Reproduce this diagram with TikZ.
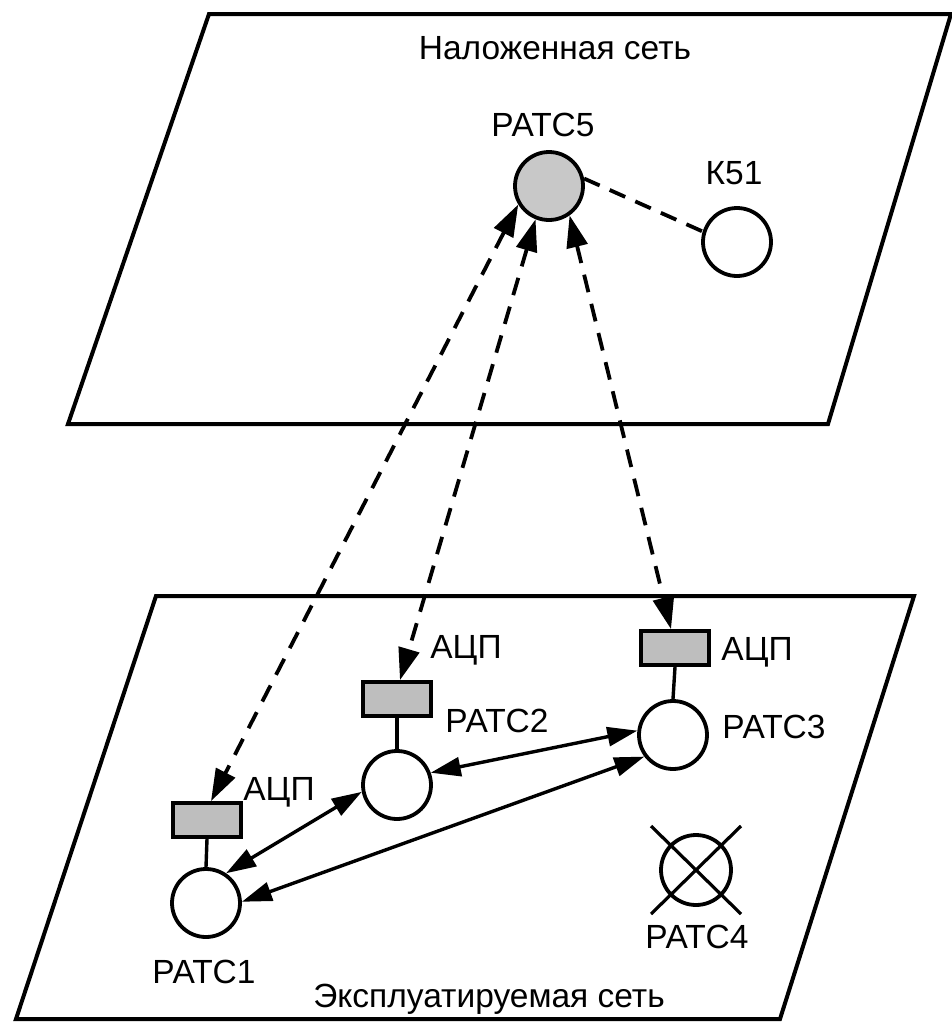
\documentclass[tikz,border=0pt]{standalone}
\usepackage{fontspec}
\setmainfont{Liberation Sans}
\usetikzlibrary{arrows.meta}
\definecolor{fillA}{HTML}{C8C8C8}
\definecolor{fillB}{HTML}{BEBEBE}
\tikzset{
  plane/.style={line width=4pt, line join=miter},
  station/.style={circle, draw, line width=3.8pt, minimum size=68pt, inner sep=0pt, fill=white},
  adc/.style={rectangle, draw, line width=3.8pt, minimum width=68pt, minimum height=34pt, inner sep=0pt, fill=fillB},
  lbl/.style={font=\fontsize{33.5}{33.5}\selectfont, inner sep=0pt, anchor=base},
  dlink/.style={line width=3.8pt, dash pattern=on 18pt off 12pt, {Triangle[length=32pt,width=21pt]}-{Triangle[length=32pt,width=21pt]}},
  slink/.style={line width=3.4pt, {Triangle[length=30pt,width=19pt]}-{Triangle[length=30pt,width=19pt]}},
  wire/.style={line width=3.4pt},
}
\begin{document}
\begin{tikzpicture}[x=1pt,y=-1pt]
\useasboundingbox (0,0) rectangle (951,1023);
% planes
\draw[plane] (209,14) -- (951,14) -- (828,424) -- (68,424) -- cycle;
\draw[plane] (156,596) -- (914,596) -- (780,1019) -- (16,1019) -- cycle;
% top plane
\node[lbl] (tTop) at (555,59) {Наложенная сеть};
\node[station, fill=fillA] (P5) at (549,186) {};
\node[station] (K51) at (737,242) {};
\node[lbl] (lP5) at (543,136) {РАТС5};
\node[lbl] (lK51) at (734,184) {К51};
\draw[line width=3.8pt, dash pattern=on 17pt off 11pt] (P5.12) -- (K51.163);
% bottom plane
\node[station] (P1) at (206,903) {};
\node[station] (P2) at (397,785) {};
\node[station] (P3) at (673,735) {};
\node[circle, draw, line width=3.8pt, minimum size=70pt, inner sep=0pt] (P4) at (696,870) {};
\node[adc] (A1) at (207,820) {};
\node[adc] (A2) at (397,699) {};
\node[adc] (A3) at (675,648) {};
\draw[wire] (A1.south) -- (P1.north);
\draw[wire] (A2.south) -- (P2.north);
\draw[wire] (A3.south) -- (P3.north);
\draw[line width=3.2pt] ([shift={(-45,-44)}]P4.center) -- ([shift={(45,44)}]P4.center);
\draw[line width=3.2pt] ([shift={(45,-44)}]P4.center) -- ([shift={(-45,44)}]P4.center);
% labels
\node[lbl] (lA3) at (757,660) {АЦП};
\node[lbl] (lA2) at (466,658) {АЦП};
\node[lbl] (lA1) at (279,800) {АЦП};
\node[lbl] (lP2) at (497,732) {РАТС2};
\node[lbl] (lP3) at (774,738) {РАТС3};
\node[lbl] (lP1) at (204,983) {РАТС1};
\node[lbl] (lP4) at (697,948) {РАТС4};
\node[lbl] (tBot) at (489,1007) {Эксплуатируемая сеть};
% links
\draw[slink] (P2.20) -- (P3.173);
\draw[slink] (P1.56) -- (P2.191);
\draw[slink] (P1.2) -- (P3.217);
\draw[dlink] (P5.211) -- ([xshift=4pt]A1.north);
\draw[dlink] (P5.248) -- ([xshift=3pt]A2.north);
\draw[dlink] (P5.305) -- ([xshift=-4pt]A3.north);
\end{tikzpicture}
\end{document}
